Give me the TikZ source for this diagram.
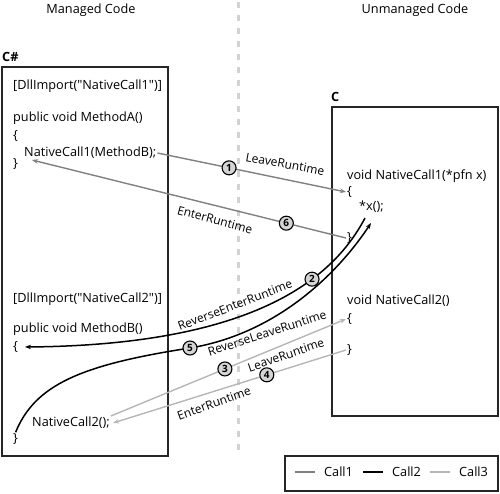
\documentclass[tikz,border=0pt]{standalone}
\usepackage{fontspec}
\setmainfont{Open Sans}[Ligatures=TeXOff]
\usetikzlibrary{arrows.meta}
\definecolor{callgray}{RGB}{128,128,128}
\definecolor{calllight}{RGB}{182,182,182}
\definecolor{sepgray}{RGB}{210,210,210}
\definecolor{stepfill}{RGB}{212,212,212}
\newcommand{\codesize}{\fontsize{12.7}{15}\selectfont}

\begin{document}
\begin{tikzpicture}[
  x=1pt,y=-1pt,
  font=\codesize,
  code/.style={anchor=west,inner sep=1pt},
  lang/.style={code,font=\codesize\bfseries},
  lbl/.style={inner sep=0pt,font=\fontsize{12}{14}\selectfont},
  frame/.style={draw=black!85,line width=1.5pt},
  stepnum/.style={circle,draw=black,fill=stepfill,text=black,line width=1.1pt,
    inner sep=0pt,minimum size=14pt,font=\bfseries\fontsize{10}{10}\selectfont},
  callone/.style={callgray,line width=1.4pt,-{Stealth[length=6pt,width=4.5pt]}},
  calltwo/.style={black,line width=1.5pt,-{Stealth[length=6pt,width=4.5pt]}},
  callthree/.style={calllight,line width=1.4pt,-{Stealth[length=6pt,width=4.5pt]}}
]
\useasboundingbox (0,0) rectangle (500,493);
% headings and divider
\node (hdManaged) at (91,10) {Managed Code};
\node (hdUnmanaged) at (415,10) {Unmanaged Code};
\draw[sepgray,line width=3pt,dash pattern=on 6pt off 7pt] (238,2) -- (238,456);

% managed side
\node[lang] (langCs) at (1,57) {C\#};
\draw[frame] (2,67) rectangle (168,456);
\node[code] (dllA) at (12,86) {[DllImport("NativeCall1")]};
\node[code] (methA) at (12,118) {public void MethodA()};
\node[code] (openA) at (12,136) {\{};
\node[code] (callA) at (23,153) {NativeCall1(MethodB);};
\node[code] (closeA) at (12,164) {\}};
\node[code] (dllB) at (12,299) {[DllImport("NativeCall2")]};
\node[code] (methB) at (12,329) {public void MethodB()};
\node[code] (openB) at (12,347) {\{};
\node[code] (callB) at (31,423) {NativeCall2();};
\node[code] (closeB) at (12,439) {\}};

% unmanaged side
\node[lang] (langC) at (330,97) {C};
\draw[frame] (332,107) rectangle (498,416);
\node[code] (natA) at (346,176) {void NativeCall1(*pfn x)};
\node[code] (openC) at (346,192) {\{};
\node[code] (derefX) at (358,207) {*x();};
\node[code] (closeC) at (346,238) {\}};
\node[code] (natB) at (346,301) {void NativeCall2()};
\node[code] (openD) at (346,319) {\{};
\node[code] (closeD) at (346,350) {\}};

% free ends
\coordinate (backA) at (32,160);
\coordinate (xOut) at (365,218);
\coordinate (xIn) at (371,223);
\coordinate (backB) at (25,347);
\coordinate (callBend) at (113,423);

% transitions
\draw[callone] (callA.east) -- node[stepnum,pos=.38] (s1) {1} (openC.west);
\draw[callone] (closeC.west) -- node[stepnum,pos=.19] (s6) {6} (backA);
\draw[calltwo] (xOut) .. controls (335,275) and (260,345) .. node[stepnum,pos=.35] (s2) {2} (backB);
\draw[calltwo] (closeB.north) .. controls (35,385) and (80,365) .. (190,348) node[stepnum] (s5) {5}
  .. controls (280,333) and (340,270) .. (xIn);
\draw[callthree] (callB.north east) -- node[stepnum,pos=.485] (s3) {3} (openD.west);
\draw[callthree] (closeD.west) -- node[stepnum,pos=.34] (s4) {4} (callBend);

\node[lbl,rotate=-10.5] (lbLeaveA) at (285,164) {LeaveRuntime};
\node[lbl,rotate=-15] (lbEnterA) at (215,220) {EnterRuntime};
\node[lbl,rotate=21] (lbRevEnter) at (235,305) {ReverseEnterRuntime};
\node[lbl,rotate=18] (lbRevLeave) at (267,333) {ReverseLeaveRuntime};
\node[lbl,rotate=19] (lbLeaveB) at (286,355) {LeaveRuntime};
\node[lbl,rotate=20] (lbEnterB) at (214,403) {EnterRuntime};

% legend
\draw[frame] (285,456) rectangle (498,491);
\foreach \i/\col/\x in {1/callgray/295,2/black/363,3/calllight/430}{
  \draw[\col,line width=1.4pt] (\x,472) -- ++(20,0);
  \node[code] (lg\i) at (\x+28,472) {Call\i};
}
\end{tikzpicture}
\end{document}
